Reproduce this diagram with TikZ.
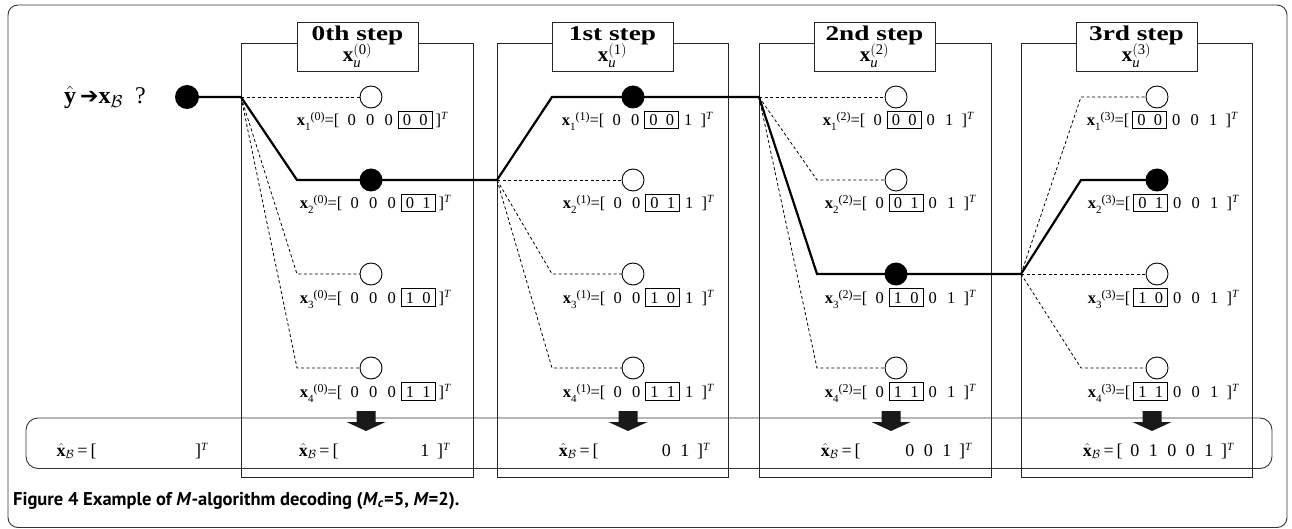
\documentclass[tikz,border=0pt]{standalone}
\usepackage{fontspec}
\setmainfont{Liberation Serif}
\newfontfamily\hdfont[FakeStretch=1.3]{Liberation Serif}
\newfontfamily\capfont{PT Sans}
\newfontfamily\symfont{DejaVu Sans}
\newcommand\dd[1]{\makebox[18.5pt]{#1}}
\newcommand\bd[2]{{\fboxsep=0pt\fboxrule=0.8pt\fbox{\rule[-2.5pt]{0pt}{17pt}\makebox[16.5pt]{#1}\makebox[16.5pt]{#2}}}}
\newcommand\xl[2]{\textbf{x}\raisebox{-5pt}{\fontsize{11}{12}\selectfont #1}\raisebox{5pt}{\fontsize{12}{13}\selectfont(#2)}=[\hspace{3pt}}
\newcommand\xr{\hspace{3pt}]\raisebox{6pt}{\fontsize{11}{12}\selectfont\itshape T}}
\newcommand\xb{$\hat{\mathbf{x}}_{\mathcal{B}}$\,=\,[\hspace{3pt}}
\begin{document}
\begin{tikzpicture}[x=1pt,y=-1pt,
  frm/.style={draw=black!80,line width=0.9pt,rounded corners=10pt},
  stepbox/.style={draw=black!85,line width=0.9pt},
  hdr/.style={draw=black!85,line width=0.9pt,fill=white,minimum width=121pt,minimum height=49pt,inner sep=0pt},
  hdtext/.style={font=\hdfont\fontsize{21}{24}\selectfont\bfseries,inner sep=0pt,anchor=base},
  hdmath/.style={font=\fontsize{21}{24}\selectfont,inner sep=0pt,anchor=base},
  solidp/.style={line width=2.2pt,line join=miter},
  dsh/.style={line width=0.8pt,dash pattern=on 3pt off 2.5pt},
  fc/.style={circle,fill=black,minimum size=23pt,inner sep=0pt},
  oc/.style={circle,draw=black,fill=white,line width=0.9pt,minimum size=22pt,inner sep=0pt},
  lbl/.style={font=\fontsize{16.5}{19}\selectfont,inner sep=0pt,anchor=base},
  res/.style={font=\fontsize{18}{21}\selectfont,inner sep=0pt,anchor=base},
  blk/.style={fill=black!90}
]
\useasboundingbox (0,0) rectangle (1292,529);
% outer frame
\draw[frm] (8,5) rectangle (1287,527.5);
% step boxes
\draw[stepbox] (241,43) rectangle (473,477);
\draw[stepbox] (497,43) rectangle (728,477);
\draw[stepbox] (759,43) rectangle (991,477);
\draw[stepbox] (1021,43) rectangle (1252,477);
% bottom result bar
\draw[frm,rounded corners=12pt] (26,418) rectangle (1272,468.5);
% headers
\node[hdr] (h0) at (357.5,46.5) {};
\node[hdr] (h1) at (612.5,46.5) {};
\node[hdr] (h2) at (874.5,46.5) {};
\node[hdr] (h3) at (1136.5,46.5) {};
\node[hdtext] (h0a) at (357.5,40.5) {0th step};
\node[hdtext] (h1a) at (612.5,40.5) {1st step};
\node[hdtext] (h2a) at (874.5,40.5) {2nd step};
\node[hdtext] (h3a) at (1136.5,40.5) {3rd step};
\node[hdmath] (h0b) at (357.5,62) {$\mathbf{x}^{\mathrm{(0)}}_{\mathit{u}}$};
\node[hdmath] (h1b) at (612.5,62) {$\mathbf{x}^{\mathrm{(1)}}_{\mathit{u}}$};
\node[hdmath] (h2b) at (874.5,62) {$\mathbf{x}^{\mathrm{(2)}}_{\mathit{u}}$};
\node[hdmath] (h3b) at (1136.5,62) {$\mathbf{x}^{\mathrm{(3)}}_{\mathit{u}}$};
% start
\node[font=\fontsize{24}{28}\selectfont,inner sep=0pt,anchor=base west] (q) at (64,104)
  {$\hat{\mathbf{y}}$\,{\symfont\bfseries\fontsize{22}{24}\selectfont ➔}$\mathbf{x}_{\mathcal{B}}$\ \ ?};
% coordinates
\coordinate (b0) at (241,97);
\coordinate (b1) at (497,180);
\coordinate (b2) at (759,97);
\coordinate (b3) at (1021,274);
\coordinate (k02) at (297,180); \coordinate (k03) at (297,274); \coordinate (k04) at (297,368);
\coordinate (k11) at (552,97); \coordinate (k13) at (552,274); \coordinate (k14) at (552,368);
\coordinate (k22) at (817,180); \coordinate (k23) at (817,274); \coordinate (k24) at (817,368);
\coordinate (k31) at (1081,97); \coordinate (k32) at (1081,180); \coordinate (k34) at (1081,368);
\path (187,97) coordinate (sp);
\foreach \b/\X in {0/371,1/633,2/896,3/1157}{
  \foreach \r/\Y in {1/97,2/180,3/274,4/368}{
    \coordinate (p\b\r) at (\X,\Y);
  }
}
% dashed branches
\draw[dsh] (b0) -- (p01);
\draw[dsh] (b0) -- (k03) -- (p03);
\draw[dsh] (b0) -- (k04) -- (p04);
\draw[dsh] (b1) -- (p12);
\draw[dsh] (b1) -- (k13) -- (p13);
\draw[dsh] (b1) -- (k14) -- (p14);
\draw[dsh] (b2) -- (p21);
\draw[dsh] (b2) -- (k22) -- (p22);
\draw[dsh] (b2) -- (k24) -- (p24);
\draw[dsh] (b3) -- (k31) -- (p31);
\draw[dsh] (b3) -- (p33);
\draw[dsh] (b3) -- (k34) -- (p34);
% solid survivor path
\draw[solidp] (sp) -- (b0) -- (k02) -- (p02) -- (b1) -- (k11) -- (p11) -- (b2) -- (k23) -- (p23) -- (b3) -- (k32) -- (p32);
% circle nodes
\node[fc,minimum size=24pt] (s) at (sp) {};
\node[oc] (c01) at (p01) {}; \node[fc] (c02) at (p02) {}; \node[oc] (c03) at (p03) {}; \node[oc] (c04) at (p04) {};
\node[fc] (c11) at (p11) {}; \node[oc] (c12) at (p12) {}; \node[oc] (c13) at (p13) {}; \node[oc] (c14) at (p14) {};
\node[oc] (c21) at (p21) {}; \node[oc] (c22) at (p22) {}; \node[fc] (c23) at (p23) {}; \node[oc] (c24) at (p24) {};
\node[oc] (c31) at (p31) {}; \node[fc] (c32) at (p32) {}; \node[oc] (c33) at (p33) {}; \node[oc] (c34) at (p34) {};
% labels
\node[lbl] (l01) at (372,126) {\xl{1}{0}\dd0\dd0\dd0\bd00\xr};
\node[lbl] (l02) at (375,209) {\xl{2}{0}\dd0\dd0\dd0\bd01\xr};
\node[lbl] (l03) at (375,303) {\xl{3}{0}\dd0\dd0\dd0\bd10\xr};
\node[lbl] (l04) at (375,397) {\xl{4}{0}\dd0\dd0\dd0\bd11\xr};
\node[lbl] (l11) at (637,126) {\xl{1}{1}\dd0\dd0\bd00\dd1\xr};
\node[lbl] (l12) at (638,209) {\xl{2}{1}\dd0\dd0\bd01\dd1\xr};
\node[lbl] (l13) at (638,303) {\xl{3}{1}\dd0\dd0\bd10\dd1\xr};
\node[lbl] (l14) at (638,397) {\xl{4}{1}\dd0\dd0\bd11\dd1\xr};
\node[lbl] (l21) at (898,126) {\xl{1}{2}\dd0\bd00\dd0\dd1\xr};
\node[lbl] (l22) at (900,209) {\xl{2}{2}\dd0\bd01\dd0\dd1\xr};
\node[lbl] (l23) at (900,303) {\xl{3}{2}\dd0\bd10\dd0\dd1\xr};
\node[lbl] (l24) at (900,397) {\xl{4}{2}\dd0\bd11\dd0\dd1\xr};
\node[lbl] (l31) at (1162,126) {\xl{1}{3}\bd00\dd0\dd0\dd1\xr};
\node[lbl] (l32) at (1163,209) {\xl{2}{3}\bd01\dd0\dd0\dd1\xr};
\node[lbl] (l33) at (1163,303) {\xl{3}{3}\bd10\dd0\dd0\dd1\xr};
\node[lbl] (l34) at (1163,397) {\xl{4}{3}\bd11\dd0\dd0\dd1\xr};
% down arrows
\foreach \ax in {366,628,891,1152}{
  \fill[blk] (\ax-9.5,411) -- (\ax+9.5,411) -- (\ax+9.5,422) -- (\ax+19.5,422) -- (\ax,431) -- (\ax-19.5,422) -- (\ax-9.5,422) -- cycle;
}
% results
\node[res] (r0) at (132,456) {\xb\dd{}\dd{}\dd{}\dd{}\dd{}\xr};
\node[res] (r1) at (374,456) {\xb\dd{}\dd{}\dd{}\dd{}\dd1\xr};
\node[res] (r2) at (634,456) {\xb\dd{}\dd{}\dd{}\dd0\dd1\xr};
\node[res] (r3) at (896,456) {\xb\dd{}\dd{}\dd0\dd0\dd1\xr};
\node[res] (r4) at (1158,456) {\xb\dd0\dd1\dd0\dd0\dd1\xr};
% caption
\node[inner sep=0pt,anchor=base west,font=\capfont\bfseries\fontsize{18.5}{21}\selectfont] (cap) at (13,505)
  {Figure 4 Example of \textit{M}-algorithm decoding (\textit{M}\textsubscript{\textit{c}}=5, \textit{M}=2).};
\end{tikzpicture}
\end{document}
